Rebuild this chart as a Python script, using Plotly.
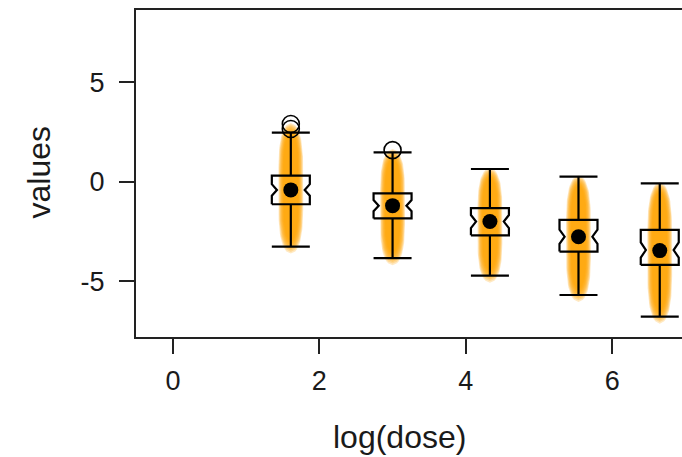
import numpy as np
import plotly.graph_objects as go

# ---- data ----
positions = [1.61, 3.00, 4.33, 5.54, 6.65]          # log(dose)
upper_whisker = [2.48, 1.49, 0.65, 0.27, -0.07]
q3_vals = [0.32, -0.57, -1.31, -1.91, -2.41]
medians = [-0.40, -1.19, -1.99, -2.75, -3.42]
q1_vals = [-1.12, -1.83, -2.68, -3.50, -4.17]
lower_whisker = [-3.25, -3.83, -4.71, -5.68, -6.77]
notch_half = [0.29, 0.28, 0.33, 0.36, 0.38]
means = [-0.40, -1.19, -1.99, -2.75, -3.45]
outlier_x = [1.61, 1.61, 3.00]
outlier_y = [2.91, 2.66, 1.60]
x_ticks = [0, 2, 4, 6]
y_ticks = [-5, 0, 5]

# ---- layout constants ----
W, H = 682, 457
ML, MT, MB, MR = 136, 10, 120, 0
x_range = [-0.505, 6.954]
y_range = [-7.79, 8.64]
px_per_x = (W - ML - MR) / (x_range[1] - x_range[0])
box_half = 19 / px_per_x
waist = 0.73

fig = go.Figure()

# soft orange stripes (layered translucent shapes) behind each box
n_layers = 9
for i, xc in enumerate(positions):
    top = max([upper_whisker[i]] + [oy for ox, oy in zip(outlier_x, outlier_y) if ox == xc])
    bot = lower_whisker[i]
    for k in range(n_layers):
        t = k / (n_layers - 1)
        hw = (12.5 - 5.0 * t) / px_per_x
        lo = bot - 0.35 + 0.65 * t
        hi = top + 0.05 - 0.50 * t
        c = (lo + hi) / 2
        L = (hi - lo) / 2
        v = np.linspace(-1, 1, 61)
        ys = c + L * v
        xs = hw * np.sqrt(np.clip(1 - np.abs(v) ** 4, 0, 1))
        px = np.concatenate([xc + xs, (xc - xs)[::-1]])
        py = np.concatenate([ys, ys[::-1]])
        fig.add_trace(go.Scatter(
            x=px, y=py, mode="lines", fill="toself",
            fillcolor="rgba(255,163,0,0.24)", line=dict(width=0),
            hoverinfo="skip", showlegend=False))

# notched boxes, whiskers and caps drawn from the statistics
for i, xc in enumerate(positions):
    b = box_half
    bw = box_half * waist
    m, n, q1, q3 = medians[i], notch_half[i], q1_vals[i], q3_vals[i]
    bx = [xc - b, xc - b, xc - bw, xc - b, xc - b, xc + b, xc + b, xc + bw, xc + b, xc + b, xc - b]
    by = [q1, m - n, m, m + n, q3, q3, m + n, m, m - n, q1, q1]
    fig.add_trace(go.Scatter(x=bx, y=by, mode="lines",
                             line=dict(color="black", width=2.2),
                             hoverinfo="skip", showlegend=False))
    wx = [xc, xc, None, xc, xc, None, xc - b, xc + b, None, xc - b, xc + b]
    wy = [q3, upper_whisker[i], None, q1, lower_whisker[i], None,
          upper_whisker[i], upper_whisker[i], None, lower_whisker[i], lower_whisker[i]]
    fig.add_trace(go.Scatter(x=wx, y=wy, mode="lines",
                             line=dict(color="black", width=2.2),
                             hoverinfo="skip", showlegend=False))

# means
fig.add_trace(go.Scatter(
    x=positions, y=means, mode="markers",
    marker=dict(color="black", size=15, line=dict(width=0)),
    hoverinfo="skip", showlegend=False))

# outliers
fig.add_trace(go.Scatter(
    x=outlier_x, y=outlier_y, mode="markers",
    marker=dict(symbol="circle-open", color="black", size=17, line=dict(width=1.6)),
    hoverinfo="skip", showlegend=False))

font_family = "Liberation Sans, Arial, sans-serif"
fig.update_layout(
    width=W, height=H,
    margin=dict(l=ML, r=MR, t=MT, b=MB),
    paper_bgcolor="white", plot_bgcolor="white",
    font=dict(family=font_family, color="#1a1a1a"),
    xaxis=dict(range=x_range, tickvals=x_ticks, ticktext=[str(v) for v in x_ticks],
               ticks="outside", ticklen=15, tickwidth=2, tickcolor="#222",
               showline=True, linecolor="#222", linewidth=2, mirror=True,
               showgrid=False, zeroline=False, tickfont=dict(size=27),
               ticklabelstandoff=4),
    yaxis=dict(range=y_range, tickvals=y_ticks, ticktext=[str(v) for v in y_ticks],
               ticks="outside", ticklen=15, tickwidth=2, tickcolor="#222",
               showline=True, linecolor="#222", linewidth=2, mirror=False,
               showgrid=False, zeroline=False, tickfont=dict(size=27),
               ticklabelstandoff=9),
    annotations=[
        dict(text="log(dose)", xref="paper", yref="paper",
             x=(399.5 - ML) / (W - ML - MR), y=-(437 - (H - MB)) / (H - MT - MB),
             xanchor="center", yanchor="middle", showarrow=False,
             font=dict(size=32, family=font_family, color="#1a1a1a")),
        dict(text="values", xref="paper", yref="paper",
             x=-(ML - 38) / (W - ML - MR), y=((H - MB) - 172.5) / (H - MT - MB),
             xanchor="center", yanchor="middle", textangle=-90, showarrow=False,
             font=dict(size=32, family=font_family, color="#1a1a1a")),
    ],
)

fig.write_html("out.html", config={"displayModeBar": False},
               post_script="document.body.style.margin='0';document.body.style.overflow='hidden';")
